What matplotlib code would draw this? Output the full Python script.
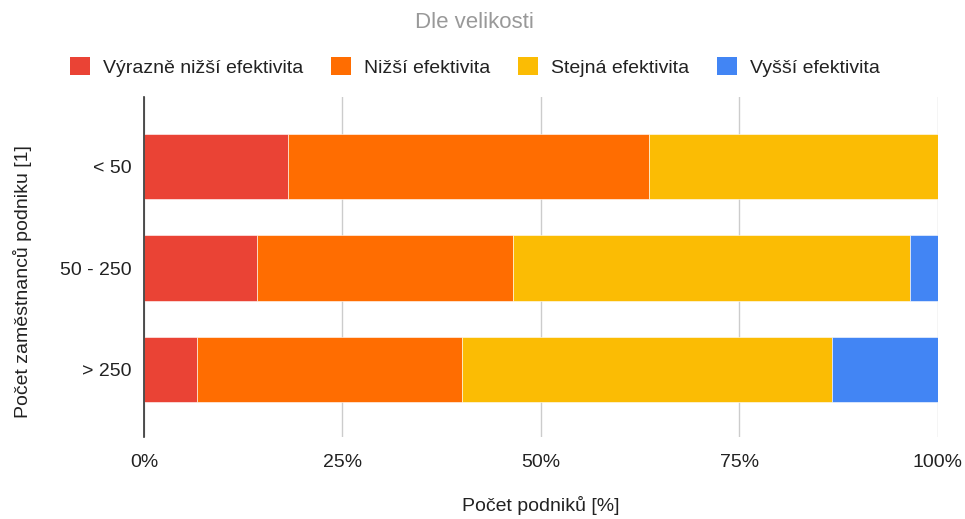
import matplotlib
matplotlib.use("Agg")
import matplotlib.pyplot as plt
from matplotlib.patches import Patch
import numpy as np

plt.rcParams['font.family'] = ['Liberation Sans', 'DejaVu Sans']

categories = ["< 50", "50 - 250", "> 250"]
series_names = ["Výrazně nižší efektivita", "Nižší efektivita", "Stejná efektivita", "Vyšší efektivita"]
# share of companies per size group [%]
vyrazne_nizsi = [18.18, 14.29, 6.67]
nizsi = [45.45, 32.14, 33.33]
stejna = [36.36, 50.00, 46.67]
vyssi = [0.00, 3.57, 13.33]
colors = ["#EA4335", "#FF6D01", "#FBBC04", "#4285F4"]
xticks = [0, 25, 50, 75, 100]
xticklabels = ["0%", "25%", "50%", "75%", "100%"]

W, H = 965, 519
fig = plt.figure(figsize=(W / 100, H / 100), dpi=100)
ax = fig.add_axes([0.1492, 0.158, 0.8228, 0.655])

y = np.arange(len(categories))
left = np.zeros(len(categories))
for vals, col, name in zip([vyrazne_nizsi, nizsi, stejna, vyssi], colors, series_names):
    vals = np.array(vals)
    ax.barh(y, vals, left=left, height=0.64, color=col, label=name,
            edgecolor="white", linewidth=0.4, zorder=3)
    left += vals

ax.set_xlim(0, 100)
ax.set_ylim(2.66, -0.68)
ax.set_yticks(y)
ax.set_yticklabels(categories, fontsize=14, color="#222222")
ax.set_xticks(xticks)
ax.set_xticklabels(xticklabels, fontsize=14, color="#222222")
ax.tick_params(axis="both", length=0)
ax.tick_params(axis="y", pad=8.8)
ax.tick_params(axis="x", pad=12)
ax.grid(axis="x", color="#cccccc", linewidth=1, zorder=0)
for s in ["top", "right", "bottom"]:
    ax.spines[s].set_visible(False)
ax.spines["left"].set_color("#333333")
ax.spines["left"].set_linewidth(1.2)
ax.spines["left"].set_zorder(4)

ax.set_xlabel("Počet podniků [%]", fontsize=14, color="#222222", labelpad=18)
fig.text(23 / W, 1 - 282 / H, "Počet zaměstnanců podniku [1]", fontsize=14,
         color="#222222", rotation=90, ha="center", va="center")

fig.text(0.492, 0.957, "Dle velikosti", fontsize=16, color="#999999",
         ha="center", va="center")

handles = [Patch(facecolor=c, edgecolor="none") for c in colors]
fig.legend(handles, series_names, loc="center", bbox_to_anchor=(0.492, 0.871),
           ncol=4, frameon=False, fontsize=14, handlelength=1.03, handleheight=1.03,
           handletextpad=0.65, columnspacing=1.45, labelcolor="#222222")

fig.savefig("out.png", dpi=100)
